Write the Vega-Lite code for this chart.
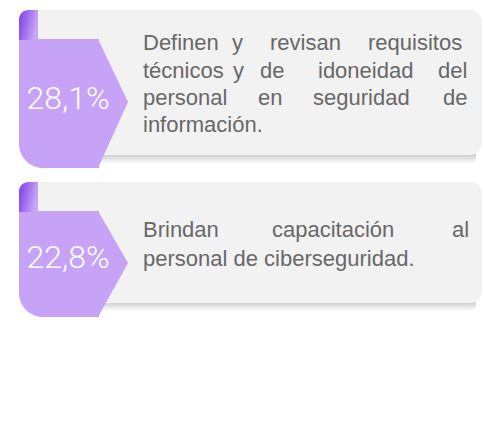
{
  "$schema": "https://vega.github.io/schema/vega-lite/v6.json",
  "width": 483,
  "height": 431,
  "padding": 0,
  "autosize": {"type": "none"},
  "background": "#ffffff",
  "config": {"view": {"stroke": null}},
  "layer": [
    {
      "data": {"values": [
        {"x": 96, "x2": 476, "y": 150, "y2": 164},
        {"x": 96, "x2": 476, "y": 298, "y2": 311}
      ]},
      "mark": {"type": "rect", "cornerRadius": 6, "fill": {"gradient": "linear", "x1": 0, "y1": 0, "x2": 0, "y2": 1, "stops": [{"offset": 0, "color": "#bdbdbd"}, {"offset": 0.45, "color": "#d6d6d6"}, {"offset": 1, "color": "#ffffff"}]}},
      "encoding": {
        "x": {"field": "x", "type": "quantitative", "scale": {"domain": [0, 483], "nice": false, "zero": false}, "axis": null},
        "x2": {"field": "x2"},
        "y": {"field": "y", "type": "quantitative", "scale": {"domain": [0, 431], "reverse": true, "nice": false, "zero": false}, "axis": null},
        "y2": {"field": "y2"}
      }
    },
    {
      "data": {"values": [
        {"x": 22, "x2": 482, "y": 10, "y2": 155},
        {"x": 22, "x2": 482, "y": 182, "y2": 303}
      ]},
      "mark": {"type": "rect", "fill": "#f2f2f2", "cornerRadius": 12},
      "encoding": {
        "x": {"field": "x", "type": "quantitative", "scale": {"domain": [0, 483], "nice": false, "zero": false}, "axis": null},
        "x2": {"field": "x2"},
        "y": {"field": "y", "type": "quantitative", "scale": {"domain": [0, 431], "reverse": true, "nice": false, "zero": false}, "axis": null},
        "y2": {"field": "y2"}
      }
    },
    {
      "data": {"values": [
        {"x": 19, "x2": 99, "y": 39, "y2": 168},
        {"x": 19, "x2": 99, "y": 211, "y2": 317}
      ]},
      "mark": {"type": "rect", "fill": "#c6a3f6", "cornerRadiusBottomLeft": 24},
      "encoding": {
        "x": {"field": "x", "type": "quantitative", "scale": {"domain": [0, 483], "nice": false, "zero": false}, "axis": null},
        "x2": {"field": "x2"},
        "y": {"field": "y", "type": "quantitative", "scale": {"domain": [0, 431], "reverse": true, "nice": false, "zero": false}, "axis": null},
        "y2": {"field": "y2"}
      }
    },
    {
      "data": {"values": [
        {"card": 1, "x": 98, "y": 39, "y2": 168},
        {"card": 1, "x": 128, "y": 102, "y2": 102},
        {"card": 2, "x": 98, "y": 211, "y2": 317},
        {"card": 2, "x": 128, "y": 263, "y2": 263}
      ]},
      "mark": {"type": "area", "fill": "#c6a3f6", "orient": "vertical"},
      "encoding": {
        "x": {"field": "x", "type": "quantitative", "scale": {"domain": [0, 483], "nice": false, "zero": false}, "axis": null},
        "y": {"field": "y", "type": "quantitative", "scale": {"domain": [0, 431], "reverse": true, "nice": false, "zero": false}, "axis": null},
        "y2": {"field": "y2"},
        "detail": {"field": "card", "type": "nominal"}
      }
    },
    {
      "data": {"values": [
        {"x": 19, "x2": 38, "y": 10, "y2": 40},
        {"x": 19, "x2": 38, "y": 182, "y2": 212}
      ]},
      "mark": {"type": "rect", "cornerRadiusTopLeft": 16, "fill": {"gradient": "linear", "x1": 0, "y1": 0, "x2": 1, "y2": 0.3, "stops": [{"offset": 0, "color": "#7e3ee6"}, {"offset": 0.5, "color": "#a170ef"}, {"offset": 1, "color": "#c9a7f7"}]}},
      "encoding": {
        "x": {"field": "x", "type": "quantitative", "scale": {"domain": [0, 483], "nice": false, "zero": false}, "axis": null},
        "x2": {"field": "x2"},
        "y": {"field": "y", "type": "quantitative", "scale": {"domain": [0, 431], "reverse": true, "nice": false, "zero": false}, "axis": null},
        "y2": {"field": "y2"}
      }
    },
    {
      "data": {"values": [
        {"label": "28,1%", "x": 68, "y": 99},
        {"label": "22,8%", "x": 68, "y": 258}
      ]},
      "mark": {"type": "text", "font": "Roboto", "fontWeight": 300, "fontSize": 32, "color": "#ffffff", "align": "center", "baseline": "middle"},
      "encoding": {
        "x": {"field": "x", "type": "quantitative", "scale": {"domain": [0, 483], "nice": false, "zero": false}, "axis": null},
        "y": {"field": "y", "type": "quantitative", "scale": {"domain": [0, 431], "reverse": true, "nice": false, "zero": false}, "axis": null},
        "text": {"field": "label"}
      }
    },
    {
      "data": {"values": [
        {"w": "Definen", "x": 143, "y": 50},
        {"w": "y", "x": 232, "y": 50},
        {"w": "revisan", "x": 270, "y": 50},
        {"w": "requisitos", "x": 368, "y": 50},
        {"w": "técnicos", "x": 143, "y": 78},
        {"w": "y", "x": 233, "y": 78},
        {"w": "de", "x": 260, "y": 78},
        {"w": "idoneidad", "x": 318, "y": 78},
        {"w": "del", "x": 438, "y": 78},
        {"w": "personal", "x": 143, "y": 105},
        {"w": "en", "x": 258, "y": 105},
        {"w": "seguridad", "x": 313, "y": 105},
        {"w": "de", "x": 443, "y": 105},
        {"w": "información.", "x": 143, "y": 132},
        {"w": "Brindan", "x": 143, "y": 237},
        {"w": "capacitación", "x": 272, "y": 237},
        {"w": "al", "x": 452, "y": 237},
        {"w": "personal de ciberseguridad.", "x": 143, "y": 266}
      ]},
      "mark": {"type": "text", "font": "Liberation Sans", "fontSize": 22, "color": "#686868", "align": "left", "baseline": "alphabetic"},
      "encoding": {
        "x": {"field": "x", "type": "quantitative", "scale": {"domain": [0, 483], "nice": false, "zero": false}, "axis": null},
        "y": {"field": "y", "type": "quantitative", "scale": {"domain": [0, 431], "reverse": true, "nice": false, "zero": false}, "axis": null},
        "text": {"field": "w"}
      }
    }
  ]
}
